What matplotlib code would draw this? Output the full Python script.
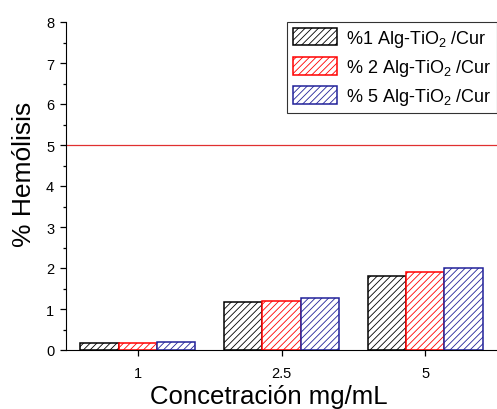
import matplotlib
matplotlib.use("Agg")
import matplotlib.pyplot as plt
import numpy as np

plt.rcParams['font.family'] = ['Liberation Sans', 'DejaVu Sans']
plt.rcParams['mathtext.fontset'] = 'custom'
plt.rcParams['mathtext.rm'] = 'Liberation Sans'
plt.rcParams['mathtext.default'] = 'regular'
plt.rcParams['hatch.linewidth'] = 0.6

categories = ['1', '2.5', '5']
series_names = ['%1 Alg-TiO$_2$ /Cur', '% 2 Alg-TiO$_2$ /Cur', '% 5 Alg-TiO$_2$ /Cur']
series_values = [
    [0.17, 1.16, 1.80],
    [0.18, 1.19, 1.91],
    [0.20, 1.26, 2.01],
]
threshold = 5
colors = ['black', 'red', '#22229a']

fig = plt.figure(figsize=(4.97, 4.10), dpi=100)
ax = fig.add_axes([66/497, 59/410, 1 - 66/497, (351-23)/410])

x = np.arange(len(categories))
w = 0.267
for i, (name, vals, c) in enumerate(zip(series_names, series_values, colors)):
    ax.bar(x + (i - 1) * w, vals, width=w, facecolor='white', edgecolor=c,
           hatch='/////', linewidth=1.1, label=name)

ax.axhline(threshold, color='#e03030', linewidth=0.9)

ax.set_xlim(-0.5, 2.5)
ax.set_ylim(0, 8)
ax.set_xticks(x)
ax.set_xticklabels(categories)
ax.set_yticks(range(0, 9))
ax.set_yticks(np.arange(0.5, 8, 1.0), minor=True)
ax.tick_params(axis='both', which='major', direction='out', length=4.5, labelsize=10.5, width=0.9)
ax.tick_params(axis='x', which='major', pad=7)
ax.tick_params(axis='y', which='major', pad=4)
ax.tick_params(axis='y', which='minor', direction='out', length=2.5, width=0.9)
for s in ['top', 'right']:
    ax.spines[s].set_visible(False)
ax.set_xlabel('Concetración mg/mL', fontsize=18.5, labelpad=3)
ax.set_ylabel('% Hemólisis', fontsize=19, labelpad=7)
ax.xaxis.label.set_x(0.471)
ax.yaxis.label.set_y(0.537)

leg = ax.legend(loc='upper right', fontsize=13, frameon=True, fancybox=False,
                edgecolor='black', borderaxespad=0, handlelength=2.4,
                handleheight=1.1, labelspacing=0.45, borderpad=0.33, handletextpad=0.5)
leg.get_frame().set_linewidth(0.8)

fig.savefig('out.png', dpi=100)
